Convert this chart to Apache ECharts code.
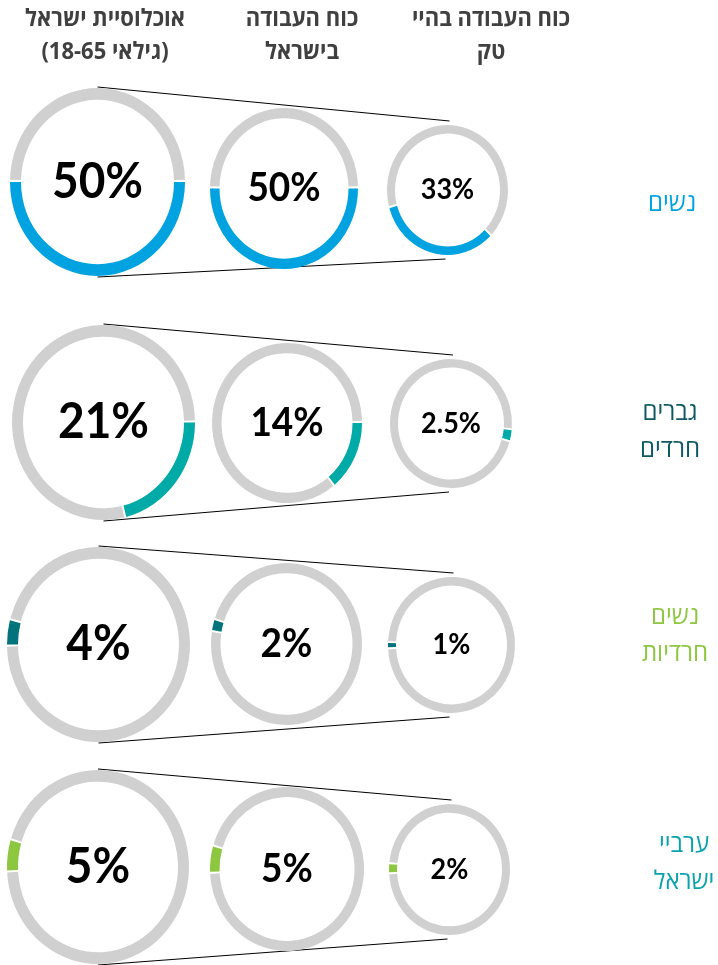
<!DOCTYPE html>
<html lang="he">
<head>
<meta charset="utf-8">
<title>ייצוג בכוח העבודה</title>
<script src="https://cdn.jsdelivr.net/npm/echarts@6/dist/echarts.min.js"></script>
<style>
  html, body { margin: 0; padding: 0; background: #ffffff; }
  #chart { width: 718px; height: 965px; }
</style>
</head>
<body>
<div id="chart"></div>
<script>
// Column headers (left to right) and population groups (top to bottom)
const columnHeaders = ['אוכלוסיית ישראל\n(גילאי 18-65)', 'כוח העבודה\nבישראל', 'כוח העבודה בהיי\nטק'];
const groupLabels = ['נשים', 'גברים\nחרדים', 'נשים\nחרדיות', 'ערביי\nישראל'];

// Share of each group (%) in each population
const sharePopulation = [50, 21, 4, 5];
const shareWorkforce = [50, 14, 2, 5];
const shareHighTech = [33, 2.5, 1, 2];

// Colours per group
const groupColors = ['#00A3E0', '#00AAA7', '#00737B', '#8DC63F'];
const groupLabelColors = ['#00A3E0', '#0E5A63', '#8DC63F', '#0AA3AD'];
const restColor = '#D0D0D0';

// Ring geometry: [cx, cy, rx, ry] for each group row and column
const ringGeometry = [
  [[97.5, 182, 87.5, 94], [284, 188.5, 74, 80.5], [447.5, 190, 60.5, 65]],
  [[103.5, 422.5, 91.5, 97.5], [287, 423, 75, 80], [451, 423.5, 61, 64.5]],
  [[98.5, 644.5, 91.5, 97.5], [286.5, 644, 75.5, 81], [451.5, 645, 63.5, 68]],
  [[98, 867, 91, 97], [287, 869, 77, 82], [449.5, 869.5, 60.5, 65.5]]
];
const ringThickness = [11, 9.5, 8];
const labelFontSize = [46, 37, 27];
// Where each coloured arc begins, in degrees clockwise from 12 o'clock
const arcStart = [
  [90, 90, 135],
  [90, 90, 96],
  [270, 280, 268],
  [268, 268, 267.5]
];
const groupLabelX = [672, 670, 675, 684];
const groupLabelY = [204, 431, 635, 863];
const TEXT_STRETCH = 1.07;

const shareColumns = [sharePopulation, shareWorkforce, shareHighTech];
const ringData = [];
shareColumns.forEach((col, c) => col.forEach((v, r) => ringData.push([r, c, v])));

const toRad = d => (d - 90) * Math.PI / 180;
const GAP_PX = 2;

function renderRing(params, api) {
  const r = api.value(0), c = api.value(1), v = api.value(2);
  const [cx, cy, rx, ry] = ringGeometry[r][c];
  const t = ringThickness[c];
  const sweep = v / 100 * 360;
  const s = toRad(arcStart[r][c]);
  const e = toRad(arcStart[r][c] + sweep);
  const gap = GAP_PX / rx;
  return {
    type: 'group',
    originX: cx,
    originY: cy,
    scaleY: ry / rx,
    children: [
      {
        type: 'sector',
        shape: { cx, cy, r0: rx - t, r: rx, startAngle: e + gap, endAngle: s + Math.PI * 2 - gap, clockwise: true },
        style: { fill: restColor }
      },
      {
        type: 'sector',
        shape: { cx, cy, r0: rx - t, r: rx, startAngle: s, endAngle: e, clockwise: true },
        style: { fill: groupColors[r] }
      },
      {
        type: 'text',
        x: cx,
        y: cy,
        style: {
          text: v + '%',
          fill: '#000000',
          fontFamily: 'Lato, "Open Sans", sans-serif',
          fontWeight: 'bold',
          fontSize: labelFontSize[c],
          align: 'center',
          verticalAlign: 'middle'
        }
      }
    ]
  };
}

// Perspective guide lines joining the top and bottom of the first and last ring of each row
const guideLines = [];
ringGeometry.forEach(row => {
  const [bx, by, , bry] = row[0];
  const [sx, sy, , sry] = row[2];
  guideLines.push({
    type: 'line', z: 0,
    shape: { x1: bx, y1: by - bry - 1, x2: sx + 2, y2: sy - sry - 4 },
    style: { stroke: '#000000', lineWidth: 1 }
  });
  guideLines.push({
    type: 'line', z: 0,
    shape: { x1: bx, y1: by + bry + 1, x2: sx - 2, y2: sy + sry + 4 },
    style: { stroke: '#000000', lineWidth: 1 }
  });
});

const headerX = [105, 302, 491];
const headerTexts = columnHeaders.map((h, i) => ({
  type: 'text',
  x: headerX[i],
  y: 36,
  originX: 0,
  originY: 0,
  scaleY: TEXT_STRETCH,
  style: {
    text: h,
    fill: '#404040',
    fontFamily: '"Open Sans", "Liberation Sans", sans-serif',
    fontWeight: 'bold',
    fontSize: 22,
    lineHeight: 31,
    align: 'center',
    verticalAlign: 'middle'
  }
}));

const groupTexts = groupLabels.map((g, i) => ({
  type: 'text',
  x: groupLabelX[i],
  y: groupLabelY[i],
  originX: 0,
  originY: 0,
  scaleY: TEXT_STRETCH,
  style: {
    text: g,
    fill: groupLabelColors[i],
    fontFamily: '"Open Sans", "Liberation Sans", sans-serif',
    fontSize: 24,
    lineHeight: 34,
    align: 'center',
    verticalAlign: 'middle'
  }
}));

const chart = echarts.init(document.getElementById('chart'), null, { renderer: 'canvas' });
chart.setOption({
  backgroundColor: '#ffffff',
  animation: false,
  graphic: guideLines.concat(headerTexts, groupTexts),
  series: [{
    type: 'custom',
    coordinateSystem: 'none',
    renderItem: renderRing,
    data: ringData,
    silent: true,
    z: 2
  }]
});
</script>
</body>
</html>
